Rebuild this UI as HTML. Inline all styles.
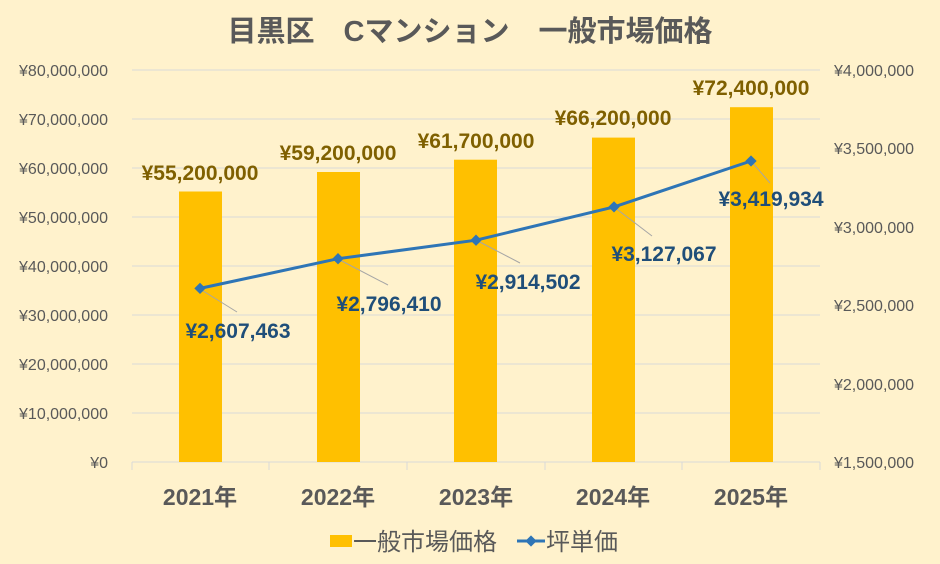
<!DOCTYPE html>
<html><head><meta charset="utf-8"><style>
html,body{margin:0;padding:0;background:#FFF2CC;}
svg{display:block;font-family:"Liberation Sans","Noto Sans CJK JP",sans-serif;}
</style></head><body>
<svg width="940" height="564" viewBox="0 0 940 564">
<rect width="940" height="564" fill="#FFF2CC"/>
<text x="470" y="41" text-anchor="middle" font-size="29" font-weight="bold" fill="#595959">目黒区　Cマンション　一般市場価格</text>
<g stroke="#D9D9D9" stroke-width="1">
<line x1="132" x2="820" y1="70" y2="70"/><line x1="132" x2="820" y1="119" y2="119"/>
<line x1="132" x2="820" y1="168" y2="168"/><line x1="132" x2="820" y1="217" y2="217"/>
<line x1="132" x2="820" y1="266" y2="266"/><line x1="132" x2="820" y1="315" y2="315"/>
<line x1="132" x2="820" y1="364" y2="364"/><line x1="132" x2="820" y1="413" y2="413"/>
<line x1="132" x2="820" y1="462" y2="462"/>
<line x1="269" x2="269" y1="462" y2="470"/><line x1="407" x2="407" y1="462" y2="470"/>
<line x1="545" x2="545" y1="462" y2="470"/><line x1="682" x2="682" y1="462" y2="470"/>
<line x1="820" x2="820" y1="462" y2="470"/><line x1="132" x2="132" y1="462" y2="470"/>
</g>
<g font-size="16" fill="#595959" text-anchor="end">
<text x="108" y="76">¥80,000,000</text><text x="108" y="125">¥70,000,000</text>
<text x="108" y="174">¥60,000,000</text><text x="108" y="223">¥50,000,000</text>
<text x="108" y="272">¥40,000,000</text><text x="108" y="321">¥30,000,000</text>
<text x="108" y="370">¥20,000,000</text><text x="108" y="419">¥10,000,000</text>
<text x="108" y="468">¥0</text>
</g>
<g font-size="16" fill="#595959" text-anchor="start">
<text x="834" y="76">¥4,000,000</text><text x="834" y="154">¥3,500,000</text>
<text x="834" y="233">¥3,000,000</text><text x="834" y="311">¥2,500,000</text>
<text x="834" y="390">¥2,000,000</text><text x="834" y="468">¥1,500,000</text>
</g>
<g fill="#FFC000">
<rect x="179" y="191.5" width="43" height="270.5"/>
<rect x="317" y="172" width="43" height="290"/>
<rect x="454" y="159.7" width="43" height="302.3"/>
<rect x="592" y="137.6" width="43" height="324.4"/>
<rect x="730" y="107.2" width="43" height="354.8"/>
</g>
<g font-size="21" font-weight="bold" fill="#7F6000" text-anchor="middle">
<text x="200" y="180">¥55,200,000</text><text x="338" y="160">¥59,200,000</text>
<text x="476" y="148">¥61,700,000</text><text x="613" y="125">¥66,200,000</text>
<text x="751" y="95">¥72,400,000</text>
</g>
<g stroke="#A6A6A6" stroke-width="1">
<line x1="200" y1="289" x2="237" y2="312"/><line x1="338" y1="259" x2="388" y2="285"/>
<line x1="476" y1="240" x2="520" y2="263"/><line x1="614" y1="207" x2="652" y2="236"/>
<line x1="751" y1="161" x2="770" y2="183"/>
</g>
<polyline points="200,288.4 338,258.7 476,240.2 614,206.9 751,161" fill="none" stroke="#2E75B6" stroke-width="3"/>
<g fill="#2E75B6">
<rect x="196" y="284.4" width="8" height="8" transform="rotate(45 200 288.4)"/>
<rect x="334" y="254.7" width="8" height="8" transform="rotate(45 338 258.7)"/>
<rect x="472" y="236.2" width="8" height="8" transform="rotate(45 476 240.2)"/>
<rect x="610" y="202.9" width="8" height="8" transform="rotate(45 614 206.9)"/>
<rect x="747" y="157" width="8" height="8" transform="rotate(45 751 161)"/>
</g>
<g font-size="21" font-weight="bold" fill="#1F4E79" text-anchor="middle">
<text x="238" y="338">¥2,607,463</text><text x="389" y="311">¥2,796,410</text>
<text x="528" y="289">¥2,914,502</text><text x="664" y="261">¥3,127,067</text>
<text x="771" y="206">¥3,419,934</text>
</g>
<g font-size="23" font-weight="bold" fill="#595959" text-anchor="middle">
<text x="200" y="505">2021年</text><text x="338" y="505">2022年</text>
<text x="476" y="505">2023年</text><text x="613" y="505">2024年</text>
<text x="751" y="505">2025年</text>
</g>
<rect x="330" y="535" width="22" height="12" fill="#FFC000"/>
<text x="353" y="550" font-size="24" fill="#595959">一般市場価格</text>
<line x1="517" y1="541" x2="545" y2="541" stroke="#2E75B6" stroke-width="3"/>
<rect x="527" y="537" width="8" height="8" fill="#2E75B6" transform="rotate(45 531 541)"/>
<text x="546" y="550" font-size="24" fill="#595959">坪単価</text>
</svg>
</body></html>
